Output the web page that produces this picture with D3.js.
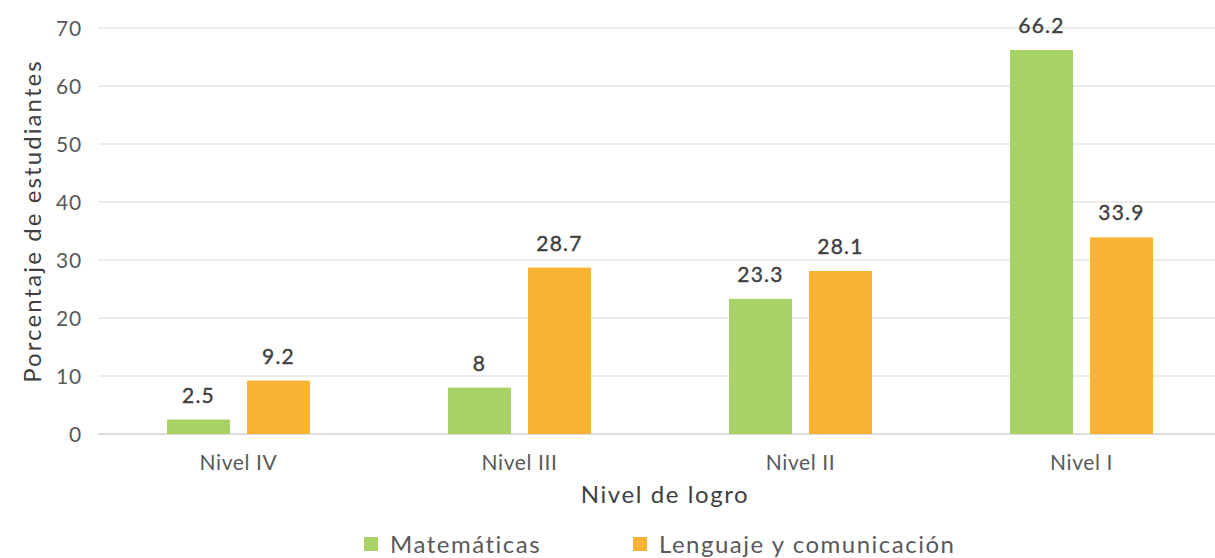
<!DOCTYPE html>
<html><head><meta charset="utf-8">
<script src="https://cdn.jsdelivr.net/npm/d3@7"></script>
<style>body{margin:0;background:#fff;} text{font-family:"Lato","Noto Sans",sans-serif;}</style>
</head><body><svg id="c" width="1215" height="558"></svg>
<script>
const categories = ["Nivel IV","Nivel III","Nivel II","Nivel I"];
const seriesNames = ["Matemáticas","Lenguaje y comunicación"];
const matematicas = [2.5, 8, 23.3, 66.2];
const lenguaje = [9.2, 28.7, 28.1, 33.9];
const yTicks = [0,10,20,30,40,50,60,70];
const colors = ["#a8d166","#fbb333"];

const svg = d3.select("#c");
const m = {left:98, right:1222, top:28, bottom:434};
const x = d3.scaleBand().domain(categories).range([m.left, m.right]);
const y = d3.scaleLinear().domain([0,70]).range([m.bottom, m.top]);
const x1 = d3.scaleBand().domain(seriesNames).range([69, 212]).paddingInner(0.2125);

// grid
svg.append("g").selectAll("line").data(yTicks).join("line")
  .attr("x1", m.left).attr("x2", 1215)
  .attr("y1", d=>y(d)).attr("y2", d=>y(d))
  .attr("stroke", d=> d===0 ? "#dcdcdc" : "#e4e4e4").attr("stroke-width", d=> d===0?2:1.5);

// y tick labels
svg.append("g").selectAll("text").data(yTicks).join("text")
  .attr("x", 82).attr("y", d=>y(d)).attr("dy","0.36em").attr("text-anchor","end")
  .attr("fill","#595959").attr("font-size",21).attr("letter-spacing","0.8").text(d=>d);

// x labels
svg.append("g").selectAll("text").data(categories).join("text")
  .attr("x", d=>x(d)+x.bandwidth()/2).attr("y", 470).attr("text-anchor","middle")
  .attr("fill","#595959").attr("font-size",21).attr("letter-spacing","0.6").text(d=>d);

const data = categories.map((c,i)=>({cat:c, vals:[matematicas[i], lenguaje[i]]}));
const g = svg.append("g").selectAll("g").data(data).join("g").attr("transform", d=>`translate(${x(d.cat)},0)`);
g.selectAll("rect").data(d=>d.vals.map((v,j)=>({v, s:seriesNames[j], j}))).join("rect")
  .attr("x", d=>x1(d.s)).attr("width", x1.bandwidth())
  .attr("y", d=>y(d.v)).attr("height", d=>y(0)-y(d.v)).attr("fill", d=>colors[d.j]);
g.selectAll("text").data(d=>d.vals.map((v,j)=>({v, s:seriesNames[j], j}))).join("text")
  .attr("x", d=>x1(d.s)+x1.bandwidth()/2).attr("y", d=>y(d.v)-17).attr("text-anchor","middle")
  .attr("fill","#404040").attr("font-size",21).attr("letter-spacing","1.2")
  .attr("stroke","#404040").attr("stroke-width",0.4).text(d=>d.v);

// axis titles
svg.append("text").attr("x", 665).attr("y", 503).attr("text-anchor","middle")
  .attr("fill","#404040").attr("font-size",24).attr("letter-spacing","1.6").text("Nivel de logro");
svg.append("text").attr("transform","translate(41,221) rotate(-90)").attr("text-anchor","middle")
  .attr("fill","#404040").attr("font-size",24).attr("letter-spacing","2.1").text("Porcentaje de estudiantes");

// legend
const legX = [364, 633];
const lg = svg.append("g").selectAll("g").data(seriesNames).join("g").attr("transform",(d,i)=>`translate(${legX[i]},537)`);
lg.append("rect").attr("width",14).attr("height",14).attr("fill",(d,i)=>colors[i]);
lg.append("text").attr("x",26).attr("y",7).attr("dy","0.36em").attr("fill","#595959").attr("font-size",24).attr("letter-spacing","1.5").text(d=>d);
</script></body></html>
